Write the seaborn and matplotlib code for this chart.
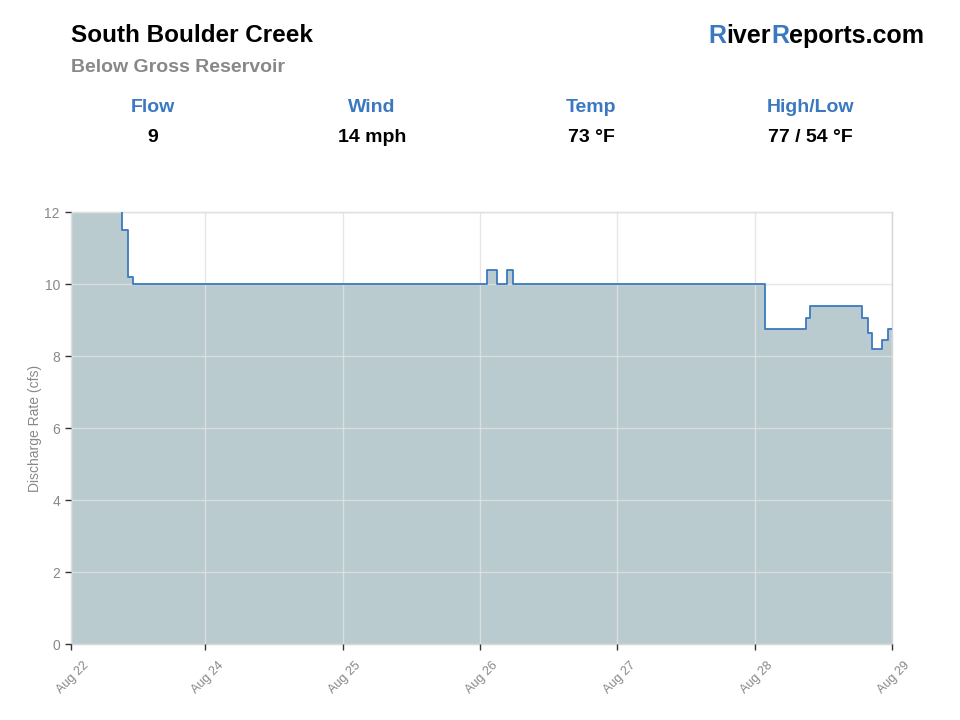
import pandas as pd
import numpy as np
import matplotlib
matplotlib.use("Agg")
import matplotlib.pyplot as plt
import matplotlib.transforms as mtransforms
import seaborn as sns

# ------------------------------------------------------------------
# Data (step changes in discharge)
# ------------------------------------------------------------------
step_times = [
    "2023-08-23 00:30", "2023-08-23 09:30", "2023-08-23 10:30", "2023-08-23 11:15",
    "2023-08-26 01:15", "2023-08-26 03:00", "2023-08-26 04:45", "2023-08-26 05:45",
    "2023-08-28 01:45", "2023-08-28 09:00", "2023-08-28 09:45", "2023-08-28 18:45",
    "2023-08-28 19:45", "2023-08-28 20:30", "2023-08-28 22:15", "2023-08-28 23:15",
    "2023-08-29 00:00",
]
flow_cfs = [13.0, 11.5, 10.2, 10.0,
            10.4, 10.0, 10.4, 10.0,
            8.75, 9.05, 9.4, 9.05,
            8.65, 8.2, 8.45, 8.75,
            8.75]

tick_times = ["2023-08-23 00:30", "2023-08-24 00:00", "2023-08-25 00:00",
              "2023-08-26 00:00", "2023-08-27 00:00", "2023-08-28 00:00",
              "2023-08-29 00:00"]
tick_labels = ["Aug 22", "Aug 24", "Aug 25", "Aug 26", "Aug 27", "Aug 28", "Aug 29"]
y_ticks = [0, 2, 4, 6, 8, 10, 12]

stat_names = ["Flow", "Wind", "Temp", "High/Low"]
stat_values = ["9", "14 mph", "73 °F", "77 / 54 °F"]

df = pd.DataFrame({"time": pd.to_datetime(step_times, format="%Y-%m-%d %H:%M"),
                   "flow": flow_cfs})
ticks = pd.to_datetime(tick_times, format="%Y-%m-%d %H:%M")

# ------------------------------------------------------------------
# Style
# ------------------------------------------------------------------
sns.set_style("white")
plt.rcParams["font.family"] = ["Liberation Sans", "DejaVu Sans"]

BLUE = "#3b78c2"
FILL = "#b9cbce"
GRAY = "#888888"

fig = plt.figure(figsize=(9.6, 7.2), dpi=100)
W, H = 960, 720
ax = fig.add_axes([71 / W, 1 - 644 / H, (892 - 71) / W, (644 - 212) / H])

# filled area under the step line, then the line itself
ax.fill_between(df["time"], df["flow"], 0, step="post", color=FILL, zorder=1, lw=0)
sns.lineplot(data=df, x="time", y="flow", drawstyle="steps-post",
             color=BLUE, linewidth=1.3, ax=ax, zorder=3)

ax.set_xlim(ticks[0], ticks[-1])
ax.set_ylim(0, 12)
ax.set_yticks(y_ticks)
ax.set_xticks(ticks)
ax.set_xticklabels([])

# rotated date labels, shifted right of their ticks like the reference
offset = mtransforms.ScaledTranslation(0.12, -0.155, fig.dpi_scale_trans)
label_trans = ax.get_xaxis_transform() + offset
for t, lbl in zip(ticks, tick_labels):
    ax.text(t, 0, lbl, transform=label_trans, rotation=45, ha="right", va="top",
            rotation_mode="anchor", fontsize=9, color=GRAY, clip_on=False)

ax.set_xlabel("")
ax.set_ylabel("Discharge Rate (cfs)", fontsize=10, color=GRAY, labelpad=2)

ax.set_axisbelow(False)
ax.grid(True, color="#e2e2e2", linewidth=1, alpha=0.85, zorder=2)
for side in ["left", "right", "top", "bottom"]:
    ax.spines[side].set_color("#d6d6d6")
    ax.spines[side].set_linewidth(1)
ax.tick_params(axis="both", which="both", bottom=True, left=True, direction="out",
               length=4, width=1, color="#333333", labelcolor=GRAY, labelsize=10)
ax.tick_params(axis="y", pad=4)

# ------------------------------------------------------------------
# Header texts
# ------------------------------------------------------------------
fig.text(71 / W, 1 - 36 / H, "South Boulder Creek", fontsize=17.5,
         fontweight="bold", color="black", ha="left", va="center")
fig.text(71 / W, 1 - 67 / H, "Below Gross Reservoir", fontsize=14,
         fontweight="bold", color=GRAY, ha="left", va="center")

# logo with blue R's, laid out piece by piece and right aligned
logo_parts = [("R", BLUE), ("iver", "black"), ("R", BLUE), ("eports.com", "black")]
renderer = fig.canvas.get_renderer()
widths = []
for txt, col in logo_parts:
    t = fig.text(0, 0, txt, fontsize=18, fontweight="bold")
    widths.append(t.get_window_extent(renderer).width)
    t.remove()
x_px = 924 - sum(widths)
for (txt, col), w in zip(logo_parts, widths):
    fig.text(x_px / W, 1 - 36 / H, txt, fontsize=18, fontweight="bold",
             color=col, ha="left", va="center")
    x_px += w

stat_x = [153, 372, 591, 810]
for sx, name, val in zip(stat_x, stat_names, stat_values):
    fig.text(sx / W, 1 - 108 / H, name, fontsize=14, fontweight="bold",
             color=BLUE, ha="center", va="center")
    fig.text(sx / W, 1 - 137 / H, val, fontsize=14, fontweight="bold",
             color="black", ha="center", va="center")

fig.savefig("out.png", dpi=100, facecolor="white")
